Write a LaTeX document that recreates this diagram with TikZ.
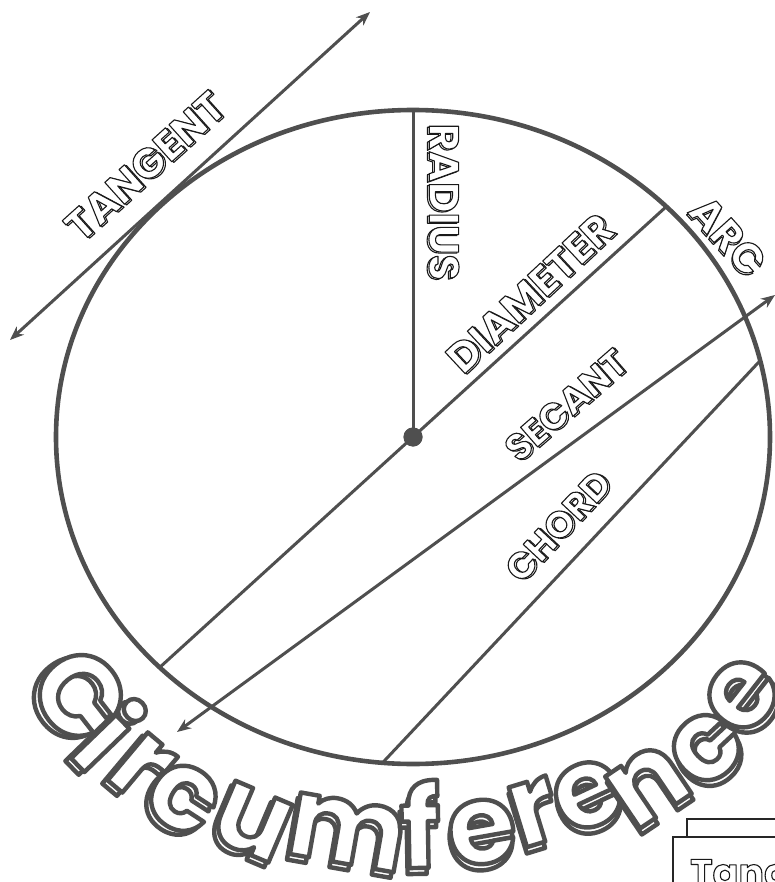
\documentclass[tikz,border=0pt]{standalone}
\usepackage{fontspec}
\newfontfamily\bubble{Poppins}
\usetikzlibrary{arrows.meta,calc}
\definecolor{ink}{gray}{0.31}
\newcommand\thinout[1]{\special{pdf:literal direct 2 Tr 1 j 1.1 w 0.1 G 1 g}#1\special{pdf:literal direct 0 Tr 0 g 0 G}}
\newcommand\thickout[1]{\special{pdf:literal direct 2 Tr 1 j 4.4 w 0.31 G 1 g}#1\special{pdf:literal direct 0 Tr 0 g 0 G}}
\tikzset{
 lab/.style={font=\bubble\bfseries\fontsize{42}{42}\selectfont, inner sep=0pt},
 labs/.style={font=\bubble\bfseries\fontsize{37}{37}\selectfont, inner sep=0pt},
 tab/.style={font=\bubble\bfseries\fontsize{38}{38}\selectfont, inner sep=0pt},
 big/.style={font=\bubble\bfseries\fontsize{112}{112}\selectfont, inner sep=0pt},
 geo/.style={draw=ink, line width=3pt},
 ring/.style={draw=ink, line width=4.6pt},
 stl/.tip={Stealth[length=14pt,width=11pt]},
 arr/.style={geo, stl-stl},
 boxline/.style={draw=black!85, line width=1.3pt},
 dot/.style={circle, fill=ink, minimum size=19pt, inner sep=0pt},
}
\newcommand\lbl[6][lab]{%
 \begin{scope}[shift={(#3,#4)},rotate=#5,transform shape]
  \node[#1] (#2-back) at (1,-1.8) {\thinout{#6}};
  \node[#1] (#2) at (0,0) {\thinout{#6}};
 \end{scope}}
\newcommand\cfl[5]{%
 \begin{scope}[shift={(#2,#3)},rotate=#4,transform shape]
  \node[big] (#1-back) at (-2,-6) {\thickout{#5}};
  \node[big] (#1) at (0,0) {\thickout{#5}};
 \end{scope}}
\begin{document}
\begin{tikzpicture}[x=1pt,y=1pt]
\useasboundingbox (0,0) rectangle (775,-882);
\clip (0,0) rectangle (775,-882);
\coordinate (O) at (413,-437);
\draw[ring] (O) ellipse [x radius=357, y radius=327];
\coordinate (top) at (413,-110);
\coordinate (dA) at ($(O)+({357*cos(44.8)},{327*sin(44.8)})$);
\coordinate (dB) at ($(O)+({357*cos(224.8)},{327*sin(224.8)})$);
\coordinate (cA) at ($(O)+({357*cos(265.1)},{327*sin(265.1)})$);
\coordinate (cB) at ($(O)+({357*cos(13.5)},{327*sin(13.5)})$);
\coordinate (s1) at (177,-732);
\coordinate (s2) at (775,-295);
\coordinate (t1) at (10,-340);
\coordinate (t2) at (370,-12);
\node[dot] (ctr) at (O) {};
\draw[geo] (ctr.center) -- (top);
\draw[geo] (dB) -- (dA);
\draw[geo] (cA) -- (cB);
\draw[arr] (s1) -- (s2);
\draw[arr] (t1) -- (t2);
\node[dot] (ctr2) at (O) {};
\lbl{tangent}{145}{-166}{42}{TANGENT}
\lbl{radius}{444}{-202}{-90}{RADIUS}
\lbl{diameter}{530}{-293}{43}{DIAMETER}
\lbl{arc}{728}{-236}{-48}{ARC}
\lbl[labs]{secant}{566}{-405}{41}{SECANT}
\lbl[labs]{chord}{558}{-526}{47}{CHORD}
\cfl{l1}{80}{-695}{-52}{C}
\cfl{l2}{110}{-734}{-46}{i}
\cfl{l3}{141}{-767}{-40}{r}
\cfl{l4}{183}{-798}{-33}{c}
\cfl{l5}{252}{-822}{-23}{u}
\cfl{l6}{347}{-832}{-10}{m}
\cfl{l7}{420}{-824}{1}{f}
\cfl{l8}{482}{-832}{10}{e}
\cfl{l9}{534}{-812}{17}{r}
\cfl{l10}{588}{-795}{25}{e}
\cfl{l11}{648}{-785}{34}{n}
\cfl{l12}{706}{-748}{43}{c}
\cfl{l13}{742}{-695}{52}{e}
\draw[boxline] (687,-837) rectangle (800,-819);
\draw[boxline] (673,-900) rectangle (800,-837);
\node[tab, anchor=base west] (tang) at (690,-886) {\thinout{Tangent}};
\end{tikzpicture}
\end{document}
